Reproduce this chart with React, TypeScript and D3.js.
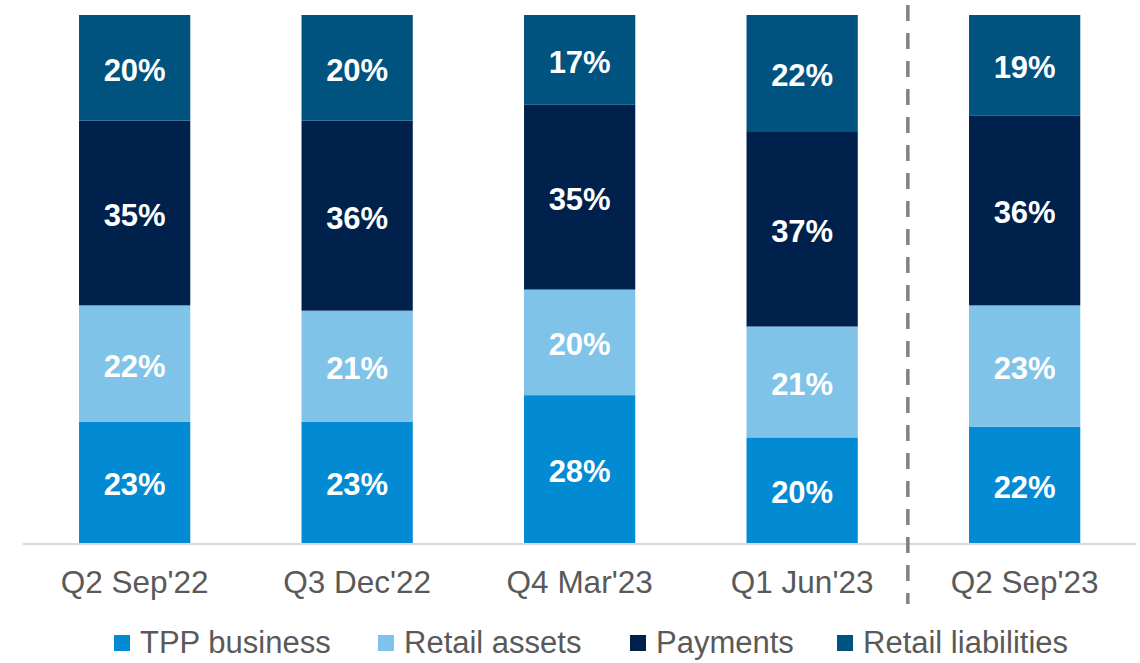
import * as d3 from 'd3';

const quarters = ["Q2 Sep'22", "Q3 Dec'22", "Q4 Mar'23", "Q1 Jun'23", "Q2 Sep'23"];
const seriesNames = ['TPP business', 'Retail assets', 'Payments', 'Retail liabilities'];
const seriesColors = ['#028bd3', '#7fc3e8', '#00214b', '#00527f'];

const tppBusiness = [23, 23, 28, 20, 22];
const retailAssets = [22, 21, 20, 21, 23];
const payments = [35, 36, 35, 37, 36];
const retailLiabilities = [20, 20, 17, 22, 19];

const legendX = [114, 378, 630, 837];

const W = 1140;
const H = 663;
const FONT = '"Liberation Sans", Arial, sans-serif';

export default function App() {
  const values = [tppBusiness, retailAssets, payments, retailLiabilities];
  const rows = quarters.map((q, i) => {
    const r: Record<string, number | string> = { q };
    seriesNames.forEach((s, k) => (r[s] = values[k][i]));
    return r;
  });
  const stack = d3.stack<Record<string, number | string>>().keys(seriesNames)(rows as any);

  const x = d3
    .scaleBand<string>()
    .domain(quarters)
    .range([23.4, 1135.9])
    .paddingInner(0.5)
    .paddingOuter(0.25);
  const y = d3.scaleLinear().domain([0, 100]).range([543, 15]);

  // fiscal-year divider sits a bit left of the gap centre
  const divider = x(quarters[4])! - x.step() * 0.275;

  return (
    <svg
      width={W}
      height={H}
      style={{ position: 'absolute', left: 0, top: 0, background: '#fff' }}
    >
      {stack.map((layer, k) => (
        <g key={seriesNames[k]} fill={seriesColors[k]}>
          {layer.map((d, i) => (
            <rect
              key={quarters[i]}
              x={x(quarters[i])}
              y={y(d[1])}
              width={x.bandwidth()}
              height={y(d[0]) - y(d[1])}
            />
          ))}
        </g>
      ))}

      {/* Segment labels */}
      {stack.map((layer, k) =>
        layer.map((d, i) => (
          <text
            key={`${k}-${i}`}
            x={x(quarters[i])! + x.bandwidth() / 2}
            y={(y(d[0]) + y(d[1])) / 2}
            dy="0.42em"
            textAnchor="middle"
            fontFamily={FONT}
            fontWeight={700}
            fontSize={31}
            fill="#ffffff"
          >
            {`${values[k][i]}%`}
          </text>
        ))
      )}

      {/* Baseline */}
      <line x1={23} x2={1136} y1={544} y2={544} stroke="#d9d9d9" strokeWidth={2} />

      {/* Divider between fiscal years */}
      <line
        x1={divider}
        x2={divider}
        y1={5}
        y2={604}
        stroke="#808080"
        strokeWidth={3.5}
        strokeDasharray="16 12"
      />

      {/* X tick labels */}
      {quarters.map((q) => (
        <text
          key={q}
          x={x(q)! + x.bandwidth() / 2}
          y={593}
          textAnchor="middle"
          fontFamily={FONT}
          fontSize={31.5}
          fill="#595959"
        >
          {q}
        </text>
      ))}

      {/* Legend */}
      {seriesNames.map((s, k) => (
        <g key={s} transform={`translate(${legendX[k]}, 635)`}>
          <rect width={16} height={16} fill={seriesColors[k]} />
          <text x={26} y={18} fontFamily={FONT} fontSize={31} fill="#595959">
            {s}
          </text>
        </g>
      ))}
    </svg>
  );
}
